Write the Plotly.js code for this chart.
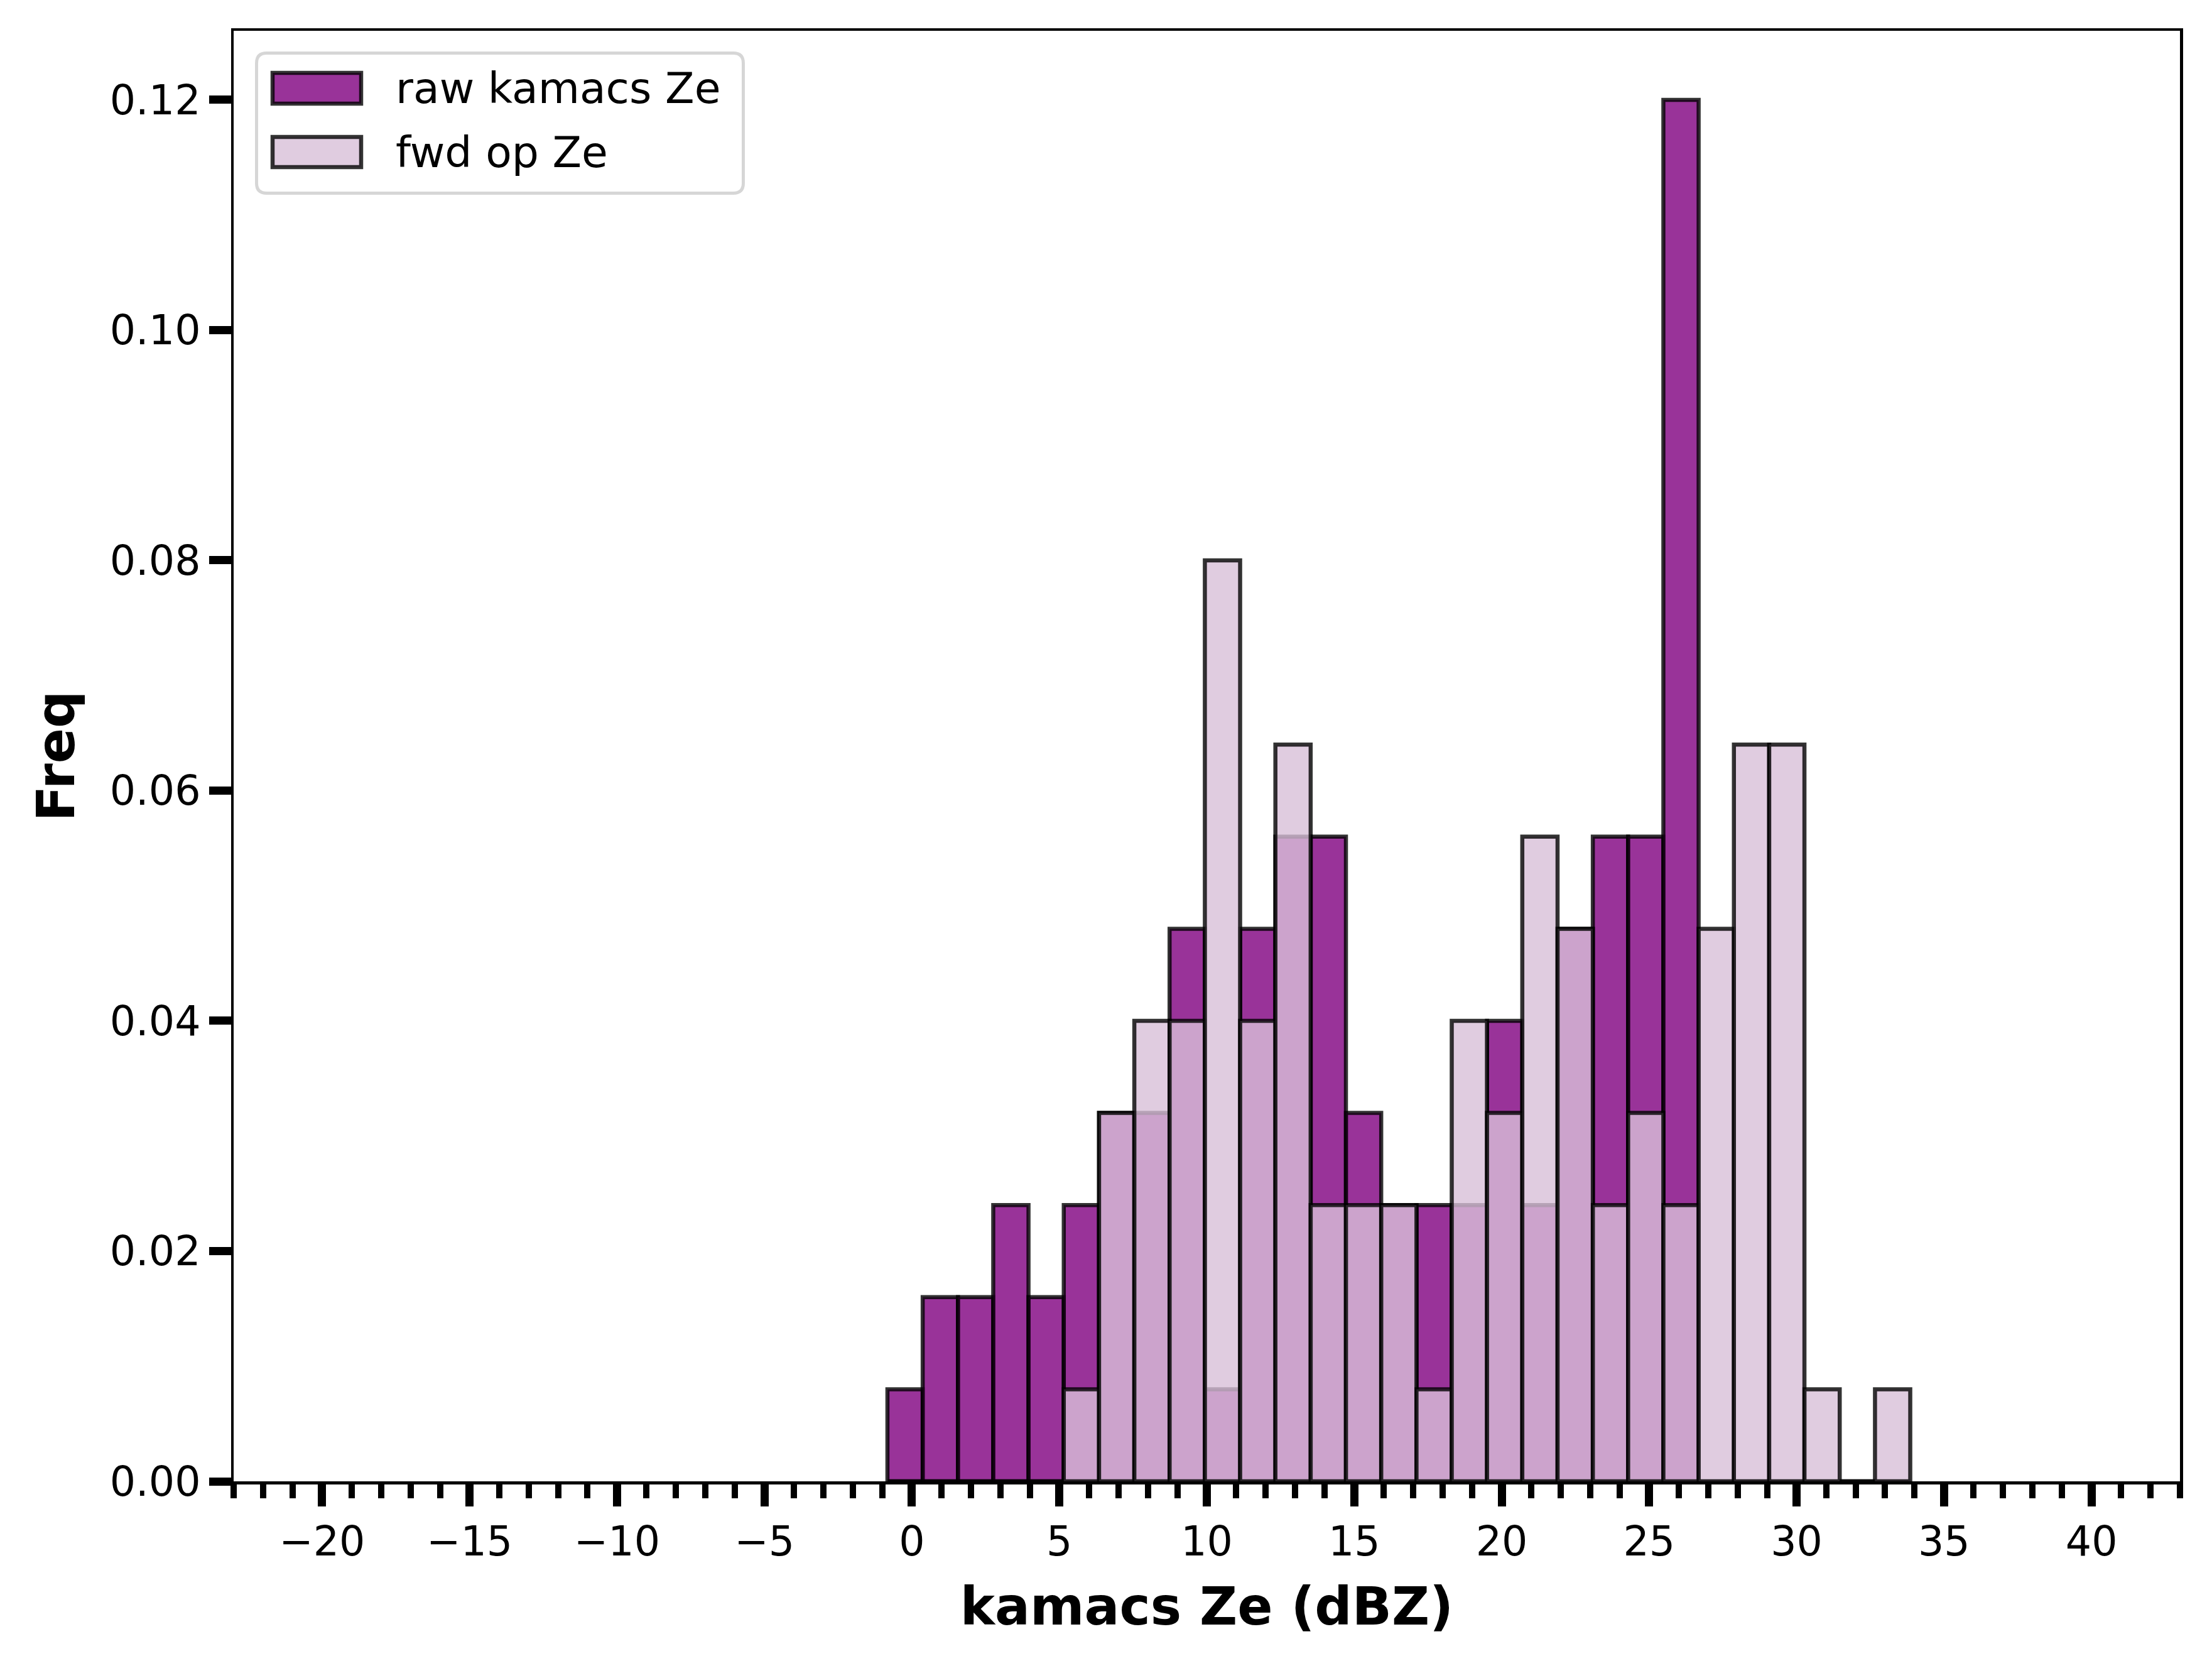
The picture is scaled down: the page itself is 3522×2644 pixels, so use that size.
<!DOCTYPE html>
<html>
<head>
<meta charset="utf-8">
<script src="https://cdn.plot.ly/plotly-3.0.1.min.js"></script>
<style>
  html, body { margin: 0; padding: 0; background: #ffffff; }
  #chart { width: 3522px; height: 2644px; }
</style>
</head>
<body>
<div id="chart"></div>
<script>
// ---- data ----
const binCenters = [-0.232, 0.964, 2.160, 3.356, 4.552, 5.748, 6.944, 8.140, 9.336, 10.532,
                    11.728, 12.924, 14.120, 15.316, 16.512, 17.708, 18.904, 20.100, 21.296, 22.492,
                    23.688, 24.884, 26.080, 27.276, 28.472, 29.668, 30.864, 32.060, 33.256];
const binWidth = 1.196;
const rawFreq = [0.008, 0.016, 0.016, 0.024, 0.016, 0.024, 0.032, 0.032, 0.048, 0.008,
                 0.048, 0.056, 0.056, 0.032, 0.024, 0.024, 0.024, 0.040, 0.024, 0.048,
                 0.056, 0.056, 0.120, 0, 0, 0, 0, 0, 0];
const fwdFreq = [0, 0, 0, 0, 0, 0.008, 0.032, 0.040, 0.040, 0.080,
                 0.040, 0.064, 0.024, 0.024, 0.024, 0.008, 0.040, 0.032, 0.056, 0.048,
                 0.024, 0.032, 0.024, 0.048, 0.064, 0.064, 0.008, 0, 0.008];
const seriesNames = ['raw kamacs Ze', 'fwd op Ze'];
const xTitle = 'kamacs Ze (dBZ)';
const yTitle = 'Freq';

// ---- styling ----
const FONT = 'DejaVu Sans, Liberation Sans, sans-serif';
const rawColor = 'rgba(128,0,128,0.8)';
const fwdColor = 'rgba(216,191,216,0.8)';
const edgeColor = 'rgba(0,0,0,0.8)';
const edgeWidth = 6.5;

const W = 3522, H = 2644;
const M = {l: 372, r: 51, t: 49, b: 286};
const PW = W - M.l - M.r, PH = H - M.t - M.b;
const px = v => (v - M.l) / PW;
const py = v => (H - M.b - v) / PH;

const traces = [
  {type: 'bar', name: seriesNames[0], x: binCenters, y: rawFreq,
   width: binCenters.map(() => binWidth),
   marker: {color: rawColor, line: {color: edgeColor, width: edgeWidth}},
   showlegend: false, hoverinfo: 'skip'},
  {type: 'bar', name: seriesNames[1], x: binCenters, y: fwdFreq,
   width: binCenters.map(() => binWidth),
   marker: {color: fwdColor, line: {color: edgeColor, width: edgeWidth}},
   showlegend: false, hoverinfo: 'skip'}
];

// manual legend (matplotlib style)
function roundRect(x0, y0, x1, y1, r) {
  const X = v => px(v).toFixed(5), Y = v => py(v).toFixed(5);
  return 'M' + X(x0 + r) + ',' + Y(y0) +
         ' L' + X(x1 - r) + ',' + Y(y0) +
         ' Q' + X(x1) + ',' + Y(y0) + ' ' + X(x1) + ',' + Y(y0 + r) +
         ' L' + X(x1) + ',' + Y(y1 - r) +
         ' Q' + X(x1) + ',' + Y(y1) + ' ' + X(x1 - r) + ',' + Y(y1) +
         ' L' + X(x0 + r) + ',' + Y(y1) +
         ' Q' + X(x0) + ',' + Y(y1) + ' ' + X(x0) + ',' + Y(y1 - r) +
         ' L' + X(x0) + ',' + Y(y0 + r) +
         ' Q' + X(x0) + ',' + Y(y0) + ' ' + X(x0 + r) + ',' + Y(y0) + ' Z';
}
const shapes = [
  {type: 'path', xref: 'paper', yref: 'paper', path: roundRect(408.5, 84.5, 1183.5, 307.5, 16),
   fillcolor: 'rgba(255,255,255,0.8)', line: {color: '#d6d6d6', width: 5}, layer: 'above'},
  {type: 'rect', xref: 'paper', yref: 'paper', x0: px(434), x1: px(575), y0: py(116), y1: py(165),
   fillcolor: rawColor, line: {color: edgeColor, width: edgeWidth}, layer: 'above'},
  {type: 'rect', xref: 'paper', yref: 'paper', x0: px(434), x1: px(575), y0: py(218), y1: py(266),
   fillcolor: fwdColor, line: {color: edgeColor, width: edgeWidth}, layer: 'above'}
];
const annotations = [
  {xref: 'paper', yref: 'paper', x: px(628), y: py(141), xanchor: 'left', yanchor: 'middle',
   text: seriesNames[0], showarrow: false, font: {family: FONT, size: 68, color: '#000'}},
  {xref: 'paper', yref: 'paper', x: px(628), y: py(243), xanchor: 'left', yanchor: 'middle',
   text: seriesNames[1], showarrow: false, font: {family: FONT, size: 68, color: '#000'}}
];

const layout = {
  width: W, height: H,
  margin: M,
  paper_bgcolor: '#ffffff', plot_bgcolor: '#ffffff',
  barmode: 'overlay', bargap: 0,
  font: {family: FONT, size: 65, color: '#000'},
  showlegend: false,
  xaxis: {
    range: [-23, 43], dtick: 5, tick0: 0,
    showgrid: false, zeroline: false,
    showline: true, linecolor: '#000', linewidth: 4.5, mirror: true,
    ticks: 'outside', ticklen: 35, tickwidth: 13, tickcolor: '#000',
    tickfont: {family: FONT, size: 65, color: '#000'},
    minor: {dtick: 1, tick0: 0, ticks: 'outside', ticklen: 22, tickwidth: 10, tickcolor: '#000', showgrid: false},
    title: {text: xTitle, standoff: 40, font: {family: FONT, size: 83, color: '#000', weight: 'bold'}}
  },
  yaxis: {
    range: [0, 0.126], dtick: 0.02, tick0: 0, tickformat: '.2f',
    showgrid: false, zeroline: false,
    showline: true, linecolor: '#000', linewidth: 4.5, mirror: true,
    ticks: 'outside', ticklen: 35, tickwidth: 13, tickcolor: '#000',
    tickfont: {family: FONT, size: 65, color: '#000'},
    title: {text: yTitle, standoff: 30, font: {family: FONT, size: 83, color: '#000', weight: 'bold'}}
  },
  shapes: shapes,
  annotations: annotations
};

Plotly.newPlot('chart', traces, layout, {staticPlot: true, displayModeBar: false});
</script>
</body>
</html>
